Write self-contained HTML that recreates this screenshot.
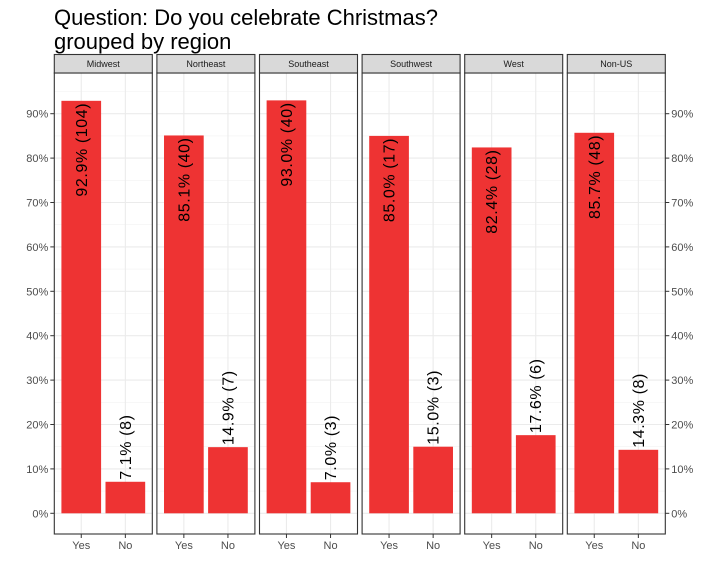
<!DOCTYPE html>
<html><head><meta charset="utf-8"><style>
body{margin:0;background:#fff;}
svg{display:block;font-family:"Liberation Sans",Arial,sans-serif;}
</style></head><body>
<svg id="chart" width="720" height="576">
<text x="54" y="25" font-size="22" fill="#000">Question: Do you celebrate Christmas?</text>
<text x="54" y="49" font-size="22" fill="#000">grouped by region</text>
<g id="plot"></g>
</svg>
<script>
const regions = ["Midwest","Northeast","Southeast","Southwest","West","Non-US"];
const categories = ["Yes","No"];
const yesPct = [92.9,85.1,93.0,85.0,82.4,85.7];
const noPct = [7.1,14.9,7.0,15.0,17.6,14.3];
const yesN = [104,40,40,17,28,48];
const noN = [8,7,3,3,6,8];
const yTicks = [0,10,20,30,40,50,60,70,80,90];

const NS="http://www.w3.org/2000/svg";
const g=document.getElementById('plot');
function mk(tag,attrs,parent){const e=document.createElementNS(NS,tag);for(const k in attrs)e.setAttribute(k,attrs[k]);(parent||g).appendChild(e);return e;}
const y0=513.3, pxPer=4.44;
function yScale(v){return y0-v*pxPer;}
const panelTop=73, panelBot=534, stripTop=54.5, panelW=98, step=102.6, left0=54.3;
function xScale(panel,catIdx){const l=left0+panel*step;return l+0.5+(0.6+catIdx)*(panelW-1)/2.2;}
const bw=0.9*(panelW-1)/2.2;

regions.forEach((r,p)=>{
  const l=left0+p*step;
  const pg=mk('g',{});
  
  
  for(let v=5;v<100;v+=10){const yy=yScale(v);if(yy>panelTop)mk('line',{x1:l,x2:l+panelW,y1:yy,y2:yy,stroke:'#f2f2f2','stroke-width':0.6},pg);}
  yTicks.forEach(v=>{const yy=yScale(v);mk('line',{x1:l,x2:l+panelW,y1:yy,y2:yy,stroke:'#ebebeb','stroke-width':1.1},pg);});
  categories.forEach((c,i)=>{const xx=xScale(p,i);mk('line',{x1:xx,x2:xx,y1:panelTop,y2:panelBot,stroke:'#ebebeb','stroke-width':1.1},pg);});
  const vals=[yesPct[p],noPct[p]], ns=[yesN[p],noN[p]];
  vals.forEach((v,i)=>{
    const xx=xScale(p,i);
    const b=mk('rect',{x:xx-bw/2,y:yScale(v),width:bw,height:yScale(0)-yScale(v),fill:'#ee3333'},pg);
    
    
    const lbl=v.toFixed(1)+'% ('+ns[i]+')';
    let t;
    if(i===0){
      const ty=yScale(v)+2;
      t=mk('text',{x:0,y:0,transform:`translate(${xx+5.5},${ty}) rotate(-90)`,'text-anchor':'end','font-size':16,'letter-spacing':0.6,fill:'#000'},pg);
    }else{
      const ty=yScale(v)-2;
      t=mk('text',{x:0,y:0,transform:`translate(${xx+5.5},${ty}) rotate(-90)`,'text-anchor':'start','font-size':16,'letter-spacing':0.6,fill:'#000'},pg);
    }
    t.textContent=lbl;
    
    
    mk('line',{x1:xx,x2:xx,y1:panelBot,y2:panelBot+4,stroke:'#333','stroke-width':1},pg);
    const xt=mk('text',{x:xx,y:panelBot+15,'text-anchor':'middle','font-size':11,fill:'#4d4d4d'},pg);
    xt.textContent=categories[i];
    
    
  });
  mk('rect',{x:l,y:panelTop,width:panelW,height:panelBot-panelTop,fill:'none',stroke:'#333','stroke-width':1.1},pg);
  const s=mk('rect',{x:l,y:stripTop,width:panelW,height:panelTop-stripTop,fill:'#d9d9d9',stroke:'#333','stroke-width':1.1},pg);
  
  
  const st=mk('text',{x:l+panelW/2,y:stripTop+12.5,'text-anchor':'middle','font-size':9,fill:'#1a1a1a'},pg);
  st.textContent=r;
  
  
});
const rightEdge=left0+5*step+panelW;
yTicks.forEach(v=>{
  const yy=yScale(v);
  mk('line',{x1:left0-4,x2:left0,y1:yy,y2:yy,stroke:'#333'});
  const t=mk('text',{x:left0-6,y:yy+4,'text-anchor':'end','font-size':11,fill:'#4d4d4d'});
  t.textContent=v+'%';
  
  
  mk('line',{x1:rightEdge,x2:rightEdge+4,y1:yy,y2:yy,stroke:'#333'});
  const t2=mk('text',{x:rightEdge+6,y:yy+4,'text-anchor':'start','font-size':11,fill:'#4d4d4d'});
  t2.textContent=v+'%';
  
  
});
</script>
</body></html>
